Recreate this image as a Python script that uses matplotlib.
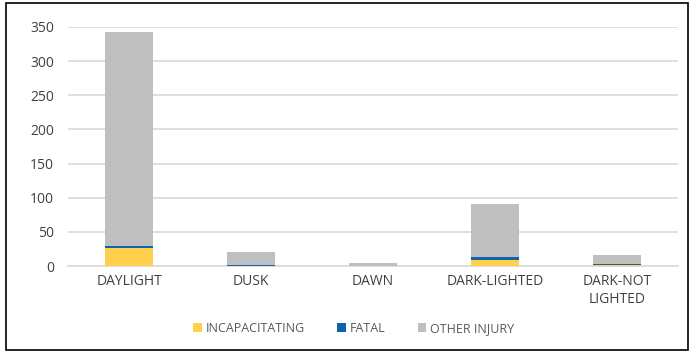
import matplotlib.pyplot as plt
import numpy as np
from matplotlib.patches import Rectangle

# Data
categories = ['DAYLIGHT', 'DUSK', 'DAWN', 'DARK-LIGHTED', 'DARK-NOT\nLIGHTED']
incapacitating = [27, 0, 0, 9, 1]
fatal = [3, 1, 0, 5, 2]
other_injury = [313, 20, 5, 77, 14]

plt.rcParams['font.family'] = ['Open Sans', 'DejaVu Sans']

fig = plt.figure(figsize=(6.94, 3.53), dpi=100)
ax = fig.add_axes([0.098, 0.246, 0.879, 0.678])

x = np.arange(len(categories))
w = 0.4
inc = np.array(incapacitating)
fat = np.array(fatal)
oth = np.array(other_injury)
ax.bar(x, inc, w, color='#FFD04C', label='INCAPACITATING', zorder=3)
ax.bar(x, fat, w, bottom=inc, color='#0F62AC', label='FATAL', zorder=3)
ax.bar(x, oth, w, bottom=inc + fat, color='#BFBFBF', label='OTHER INJURY', zorder=3)

ax.set_xlim(-0.5, len(categories) - 0.5)
ax.set_ylim(0, 350)
ax.set_yticks(range(0, 351, 50))
ax.yaxis.grid(True, color='#D9D9D9', lw=1.2, zorder=0)
for s in ['top', 'right', 'left']:
    ax.spines[s].set_visible(False)
ax.spines['bottom'].set_color('#D9D9D9')
ax.spines['bottom'].set_linewidth(1.2)
ax.tick_params(length=0, colors='#404040', labelsize=10)
ax.tick_params(axis='y', pad=10)
ax.tick_params(axis='x', pad=6)
ax.set_xticks(x)
ax.set_xticklabels(categories)

ax.legend(loc='upper center', bbox_to_anchor=(0.468, -0.185), ncol=3, frameon=False,
          fontsize=9, handlelength=0.7, handleheight=0.7, columnspacing=2.6,
          handletextpad=0.3, labelcolor='#595959')

fig.patches.append(Rectangle((0.008, 0.008), 0.984, 0.984, transform=fig.transFigure,
                             fill=False, edgecolor='black', lw=1.2))

fig.savefig('out.png', dpi=100)
